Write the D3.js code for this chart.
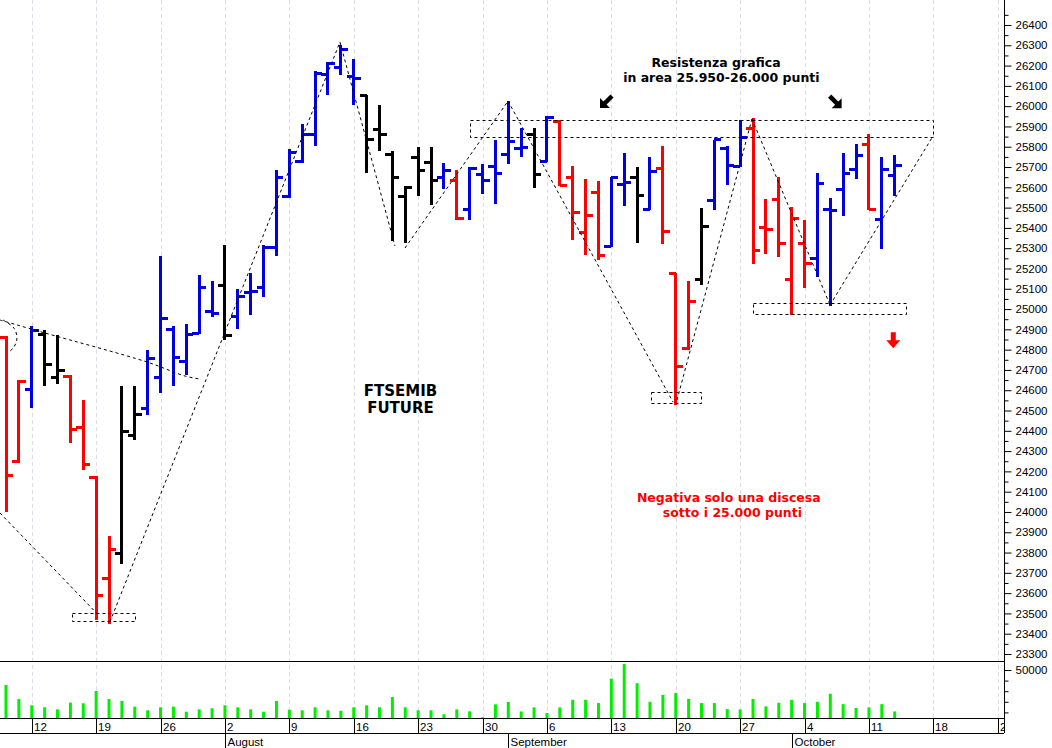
<!DOCTYPE html>
<html><head><meta charset="utf-8">
<script src="https://cdn.jsdelivr.net/npm/d3@7/dist/d3.min.js"></script>
<style>body{margin:0;background:#fff;}svg{display:block;}</style>
</head><body><svg id="c" width="1052" height="748"></svg>
<script>
// ---- DATA (trading days from 8 Jul 2021) ----
const opens  = [24860,24250,24605,24875,24665,24670,24415,24170,23670,23795,24375,24510,24665,24900,24740,24880,24990,25115,24965,25080,25105,25305,25555,25725,25860,26155,26190,26145,26055,25885,25760,25555,25745,25720,25650,25635,25490,25665,25705,25760,25790,25860,25725,25925,25650,25375,25575,25310,25615,25650,25490,25695,25175,24805,25145,25535,25790,25705,25890,25400,25540,25145,25325,25250,25490,25590,25690,25810,25440,25660];
const highs  = [24865,24650,24915,24895,24870,24675,24550,24175,23880,24620,24620,24800,25260,24915,24925,25170,25140,25315,25100,25180,25315,25685,25790,25910,26175,26220,26300,26230,26055,26005,25780,25605,25800,25800,25720,25685,25700,25715,25835,26025,25890,25890,25950,25930,25705,25640,25630,25650,25770,25700,25750,25805,25180,25140,25500,25835,25805,25930,25940,25540,25650,25505,25440,25670,25545,25770,25815,25865,25750,25760];
const lows   = [24000,24240,24510,24620,24630,24340,24205,23470,23450,23745,24355,24480,24585,24620,24675,24875,24960,24850,24900,24970,25060,25260,25545,25720,25805,26055,26155,26005,25670,25780,25335,25325,25555,25515,25590,25440,25440,25565,25520,25715,25750,25595,25725,25605,25340,25265,25240,25305,25510,25325,25490,25320,24525,24800,25120,25490,25610,25700,25220,25270,25255,24970,25105,25160,25015,25460,25640,25490,25295,25555];
const closes = [24180,24645,24895,24725,24695,24405,24235,23590,23815,24395,24480,24755,24955,24760,24875,25105,24980,24870,25060,25085,25305,25650,25770,25860,26160,26210,26280,26135,25835,25860,25650,25600,25685,25635,25685,25445,25695,25635,25670,25825,25795,25665,25945,25610,25475,25460,25265,25650,25625,25560,25680,25380,24715,25035,25405,25835,25710,25845,25290,25390,25325,25445,25225,25620,25485,25670,25755,25490,25690,25710];
// trend signal per bar: d = down (red), u = up (blue), n = neutral (black)
const signals = ["d","d","u","n","n","d","d","d","d","n","n","u","u","u","u","u","u","n","u","u","u","u","u","u","u","u","u","u","n","n","n","n","n","n","u","d","u","u","u","u","u","n","u","d","d","d","d","u","u","n","u","d","d","d","n","u","u","u","d","d","d","d","d","u","u","u","u","d","u","u"];
const volumes = [35800,22600,16700,14800,12900,19200,18600,30200,22600,20800,15400,12000,14800,15400,10700,12900,13900,16700,14800,12900,10700,20800,12600,12000,14800,12000,11600,14800,16700,14800,24500,14800,12000,12000,8200,12900,11000,5400,17600,19900,10900,14700,9400,14700,21900,21900,18800,41900,55700,37600,20000,26600,28200,22800,18800,18800,13100,12800,22600,15700,19100,21900,18800,20000,27600,17800,14100,14700,17800,10900];
const weekLabels  = ["12","19","26","2","9","16","23","30","6","13","20","27","4","11","18","25"];
const monthLabels = ["August","September","October"];
const priceTicks  = d3.range(23300, 26401, 100);
const volumeTicks = [50000];

// ---- LAYOUT ----
const axisX = 1004, priceBottom = 661, volBottom = 718, rowY = 733, H = 748;
const svg = d3.select("#c");
const x  = d3.scaleLinear().domain([0, 69]).range([6, 894.7]);
const y  = d3.scaleLinear().domain([23300, 26400]).range([654, 25]);
const yv = d3.scaleLinear().domain([0, 50000]).range([723, 670]);
const colorOf = {d:"#ff0000", u:"#0000e0", n:"#000000"};

// calendar
const days = d3.timeDay.range(new Date(2021,6,8), new Date(2021,10,5)).filter(d => d.getDay()>0 && d.getDay()<6);
const mondays = days.map((d,i)=>({d,i})).filter(o => o.d.getDay()===1).slice(0, weekLabels.length);
const monthStarts = days.map((d,i)=>({d,i})).filter(o => o.i>0 && o.d.getMonth()!==days[o.i-1].getMonth()).slice(0, monthLabels.length);

const defs = svg.append("defs");
defs.append("clipPath").attr("id","clipP").append("rect").attr("x",0).attr("y",0).attr("width",axisX).attr("height",priceBottom);
defs.append("clipPath").attr("id","clipAx").append("rect").attr("x",0).attr("y",0).attr("width",axisX).attr("height",H);

// grid
svg.append("g").selectAll("line").data(mondays).join("line")
  .attr("x1", o => Math.round(x(o.i))+0.5).attr("x2", o => Math.round(x(o.i))+0.5)
  .attr("y1", 0).attr("y2", volBottom)
  .attr("stroke", "#dcdce4").attr("stroke-dasharray", "4,3").attr("stroke-width", 1);

// volume bars
svg.append("g").selectAll("rect").data(volumes).join("rect")
  .attr("x", (v,i) => x(i)-1.5).attr("width", 3)
  .attr("y", v => Math.max(priceBottom+1, yv(v)))
  .attr("height", v => volBottom - Math.max(priceBottom+1, yv(v)))
  .attr("fill", "#00f000");

// price bars
const bars = svg.append("g").attr("clip-path","url(#clipP)").attr("shape-rendering","crispEdges")
  .selectAll("g").data(opens).join("g").attr("fill", (o,i) => colorOf[signals[i]]);
bars.append("rect").attr("x", (o,i) => x(i)-1.5).attr("width", 3)
  .attr("y", (o,i) => y(highs[i])).attr("height", (o,i) => Math.max(1, y(lows[i]) - y(highs[i])));
bars.append("rect").attr("x", (o,i) => x(i)-7).attr("width", 7)
  .attr("y", (o,i) => y(opens[i])-1.5).attr("height", 3);
bars.append("rect").attr("x", (o,i) => x(i)).attr("width", 7)
  .attr("y", (o,i) => y(closes[i])-1.5).attr("height", 3);

// annotations (index, price)
const ann = svg.append("g").attr("clip-path","url(#clipP)");
const line = d3.line().x(p => x(p[0])).y(p => y(p[1]));
const trendLines = [
  [[-0.47,23995],[7.04,23501]],
  [[8.07,23458],[25.93,26316]],
  [[25.93,26316],[30.2,25311]],
  [[30.98,25301],[38.98,26025]],
  [[38.98,26025],[51.79,24542]],
  [[52.1,24552],[57.92,25937]],
  [[57.92,25937],[63.98,25020]],
  [[63.98,25020],[71.95,25850]]
];
ann.selectAll("path.tl").data(trendLines).join("path").attr("class","tl")
  .attr("d", line).attr("fill","none").attr("stroke","#000").attr("stroke-width",1).attr("stroke-dasharray","3,3");
const curves = [
  [[-0.47,24946],[3.03,24882],[10.95,24739],[13.9,24670],[15.06,24655]],
  [[-0.23,24946],[0.62,24906],[0.85,24857],[0.62,24813],[0.15,24784]]
];
ann.selectAll("path.cv").data(curves).join("path").attr("class","cv")
  .attr("d", d3.line().x(p=>x(p[0])).y(p=>y(p[1])).curve(d3.curveCatmullRom)).attr("fill","none")
  .attr("stroke","#000").attr("stroke-width",1).attr("stroke-dasharray","3,3");
const boxes = [[5.1,23501,10.02,23460],[36.02,25932,71.95,25850],[50.05,24590,53.94,24536],[58.02,25029,69.93,24974]];
ann.selectAll("rect").data(boxes).join("rect")
  .attr("x", b => Math.round(x(b[0]))+0.5).attr("y", b => Math.round(y(b[1]))+0.5)
  .attr("width", b => Math.round(x(b[2]) - x(b[0]))).attr("height", b => Math.round(y(b[3]) - y(b[1])))
  .attr("fill","none").attr("stroke","#000").attr("stroke-width",1).attr("stroke-dasharray","3,3");

// texts
const texts = [
  {t:"Resistenza grafica", i:55.13, p:26191, c:"#000", s:12.5},
  {t:"in area 25.950-26.000 punti", i:55.54, p:26117, c:"#000", s:12.5},
  {t:"FTSEMIB", i:30.63, p:24572, c:"#000", s:15},
  {t:"FUTURE", i:30.63, p:24489, c:"#000", s:15},
  {t:"Negativa solo una discesa", i:56.12, p:24050, c:"#ff0000", s:12.5},
  {t:"sotto i 25.000 punti", i:56.4, p:23973, c:"#ff0000", s:12.5}
];
svg.append("g").selectAll("text").data(texts).join("text")
  .attr("x", d => x(d.i)).attr("y", d => y(d.p)).attr("text-anchor","middle")
  .attr("font-family","'DejaVu Sans', Verdana, sans-serif").attr("font-weight","bold")
  .attr("font-size", d => d.s).attr("fill", d => d.c).text(d => d.t);

// arrows
const arrows = [
  {i:46.12, p:25991, kind:"dl"},
  {i:64.88, p:25990, kind:"dr"},
  {i:68.89, p:24807, kind:"down"}
];
const ag = svg.append("g");
arrows.forEach(a => {
  const g = ag.append("g").attr("transform", `translate(${x(a.i)},${y(a.p)})`);
  if (a.kind === "down") {
    g.append("rect").attr("x",-2.5).attr("y",-16).attr("width",5).attr("height",9).attr("fill","#ff0000");
    g.append("path").attr("d","M-7,-8L7,-8L0,0Z").attr("fill","#ff0000");
  } else {
    const s = a.kind === "dl" ? 1 : -1;
    const gg = g.append("g").attr("transform", `scale(${s},1)`);
    gg.append("path").attr("d","M0,0L0,-10L10,0Z").attr("fill","#000");
    gg.append("line").attr("x1",3).attr("y1",-3).attr("x2",12).attr("y2",-12)
      .attr("stroke","#000").attr("stroke-width",4.5);
  }
});

// frame lines
const fr = svg.append("g").attr("stroke","#000").attr("stroke-width",1).attr("shape-rendering","crispEdges");
[priceBottom, volBottom, rowY].forEach(yy => fr.append("line").attr("x1",0).attr("x2",axisX).attr("y1",yy+0.5).attr("y2",yy+0.5));
fr.append("line").attr("x1",axisX+0.5).attr("x2",axisX+0.5).attr("y1",0).attr("y2",rowY);

// price axis
svg.append("g").attr("transform",`translate(${axisX+0.5},0)`)
  .call(d3.axisRight(y).tickValues(priceTicks).tickSize(7).tickPadding(4).tickSizeOuter(0).tickFormat(d3.format("d")));
svg.append("g").attr("transform",`translate(${axisX+0.5},0)`)
  .call(d3.axisRight(y).tickValues(d3.range(23350, 26451, 100)).tickSize(4).tickSizeOuter(0).tickFormat(""));
// volume axis
svg.append("g").attr("transform",`translate(${axisX+0.5},0)`)
  .call(d3.axisRight(yv).tickValues(volumeTicks).tickSize(7).tickPadding(4).tickSizeOuter(0).tickFormat(d3.format("d")));
svg.append("g").attr("transform",`translate(${axisX+0.5},0)`)
  .call(d3.axisRight(yv).tickValues([10000,20000,30000,40000]).tickSize(4).tickSizeOuter(0).tickFormat(""));
svg.selectAll(".domain").remove();
svg.selectAll(".tick text").attr("font-family","'Liberation Sans', Arial, sans-serif").attr("font-size",11.5).attr("fill","#000");

// date axis
const da = svg.append("g").attr("clip-path","url(#clipAx)");
const wk = da.selectAll("g.wk").data(mondays).join("g").attr("class","wk")
  .attr("transform", o => `translate(${Math.round(x(o.i))+0.5},0)`);
wk.append("line").attr("y1",volBottom).attr("y2",rowY).attr("stroke","#000");
wk.append("text").attr("x",1.5).attr("y",730.5).text((o,k) => weekLabels[k])
  .attr("font-family","'Liberation Sans', Arial, sans-serif").attr("font-size",11.5).attr("fill","#000");
const mo = da.selectAll("g.mo").data(monthStarts).join("g").attr("class","mo")
  .attr("transform", o => `translate(${Math.round(x(o.i))+0.5},0)`);
mo.append("line").attr("y1",rowY).attr("y2",H).attr("stroke","#000");
mo.append("text").attr("x",2).attr("y",745.5).text((o,k) => monthLabels[k])
  .attr("font-family","'Liberation Sans', Arial, sans-serif").attr("font-size",11.5).attr("fill","#000");
</script></body></html>
